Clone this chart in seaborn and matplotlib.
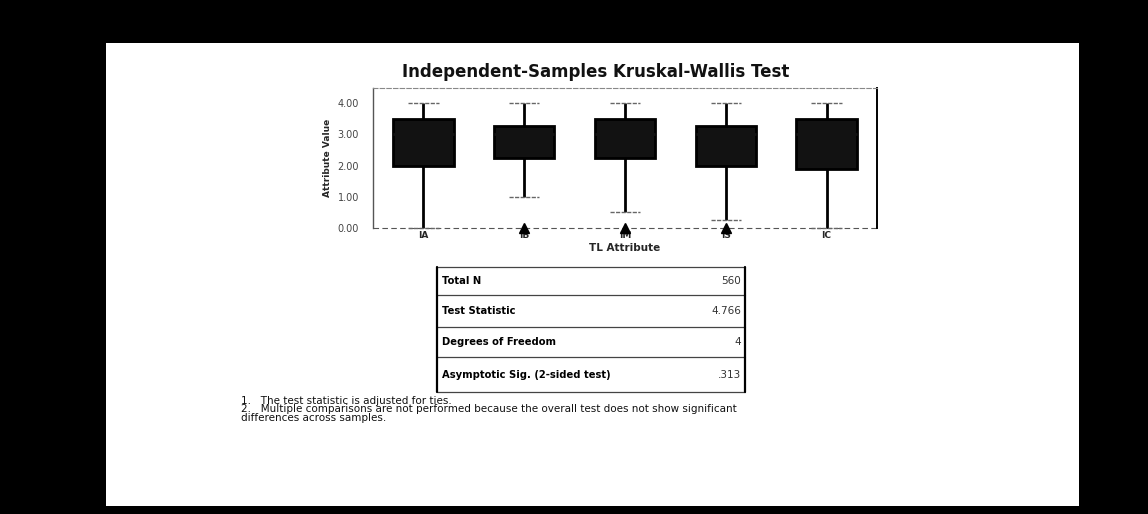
import numpy as np
import pandas as pd
import matplotlib
matplotlib.use("Agg")
import matplotlib.pyplot as plt
from matplotlib.patches import Rectangle
import seaborn as sns

# Attribute ratings per transformational-leadership attribute
categories = ["IA", "IB", "IM", "IS", "IC"]
ia_values = [0.0, 1.0, 2.0, 2.5, 3.0, 3.0, 3.5, 4.0, 4.0]
ib_values = [0.0, 1.0, 2.25, 2.75, 3.0, 3.0, 3.25, 4.0, 4.0]
im_values = [0.0, 0.5, 2.25, 2.75, 3.0, 3.25, 3.5, 4.0, 4.0]
is_values = [0.0, 0.25, 2.0, 2.5, 3.0, 3.0, 3.25, 4.0, 4.0]
ic_values = [0.0, 1.0, 1.875, 2.5, 3.0, 3.25, 3.5, 4.0, 4.0]
y_ticks = [0, 1, 2, 3, 4]

# Hypothesis test summary
summary_labels = ["Total N", "Test Statistic", "Degrees of Freedom",
                  "Asymptotic Sig. (2-sided test)"]
summary_values = ["560", "4.766", "4", ".313"]
footnotes = [
    "1.   The test statistic is adjusted for ties.",
    "2.   Multiple comparisons are not performed because the overall test does not show significant",
    "differences across samples.",
]

groups = [ia_values, ib_values, im_values, is_values, ic_values]
df = pd.DataFrame({
    "TL Attribute": np.repeat(categories, [len(g) for g in groups]),
    "Attribute Value": np.concatenate(groups),
})

sns.set_style("white")
plt.rcParams["font.family"] = ["DejaVu Sans"]

W, H = 1148, 514
fig = plt.figure(figsize=(W / 100, H / 100), dpi=100, facecolor="black")

# Full-figure canvas in pixel coordinates for the page, table and notes
bg = fig.add_axes([0, 0, 1, 1])
bg.set_xlim(0, W)
bg.set_ylim(H, 0)
bg.axis("off")
bg.add_patch(Rectangle((106, 43), 973, 463, facecolor="white", edgecolor="none"))

bg.text(596, 72, "Independent-Samples Kruskal-Wallis Test", ha="center", va="center",
        fontsize=12, fontweight="bold", color="#111111")

# Summary table
t_left, t_right = 437, 745
row_edges = [267, 295, 327, 357, 392]
for y in row_edges:
    bg.plot([t_left, t_right], [y, y], color="#444444", lw=0.9)
bg.plot([t_left, t_left], [row_edges[0], row_edges[-1]], color="black", lw=1.6)
bg.plot([t_right, t_right], [row_edges[0], row_edges[-1]], color="black", lw=1.6)
for i, (lab, val) in enumerate(zip(summary_labels, summary_values)):
    yc = (row_edges[i] + row_edges[i + 1]) / 2
    bg.text(442, yc, lab, ha="left", va="center", fontsize=7.2,
            fontweight="bold", color="black")
    bg.text(741, yc, val, ha="right", va="center", fontsize=7.5, color="#333333")

for i, line in enumerate(footnotes):
    bg.text(241, 401 + i * 8.5, line, ha="left", va="center", fontsize=7.5,
            color="#111111")

# Box plot panel
ax = fig.add_axes([373 / W, 1 - 228 / H, 504 / W, 140 / H])
sns.boxplot(
    data=df, x="TL Attribute", y="Attribute Value", order=categories,
    width=0.6, color="#121212", saturation=1, linecolor="black", linewidth=2.0,
    whis=1.5,
    flierprops=dict(marker="^", markersize=7, markerfacecolor="black",
                    markeredgecolor="black"),
    capprops=dict(color="#666666", linewidth=1.0, linestyle=(0, (3, 1))),
    medianprops=dict(color="#121212"),
    ax=ax,
)
ax.set_ylim(0, 4.48)
ax.set_xlim(-0.5, 4.5)
ax.set_yticks(y_ticks)
ax.set_yticklabels([f"{v:.2f}" for v in y_ticks], fontsize=7, color="#444444")
ax.set_xticks(range(len(categories)))
ax.set_xticklabels(categories, fontsize=6.5, fontweight="bold")
ax.tick_params(axis="y", length=2, width=0.6, pad=8, color="#555555")
ax.tick_params(axis="x", length=0, pad=2)
ax.set_xlabel("TL Attribute", fontsize=7.5, fontweight="bold", labelpad=2)
ax.set_ylabel("Attribute Value", fontsize=6.5, fontweight="bold", labelpad=4)
ax.axhline(0, color="#555555", lw=0.8, ls=(0, (5, 3)), zorder=0.5)
for coll in ax.lines:
    coll.set_clip_on(False)
ax.spines["bottom"].set_visible(False)
ax.spines["top"].set_color("#888888")
ax.spines["top"].set_linestyle((0, (4, 2)))
ax.spines["top"].set_linewidth(0.8)
ax.spines["left"].set_color("#555555")
ax.spines["left"].set_linewidth(1.0)
ax.spines["right"].set_color("black")
ax.spines["right"].set_linewidth(1.4)

fig.savefig("out.png", dpi=100, facecolor="black")
